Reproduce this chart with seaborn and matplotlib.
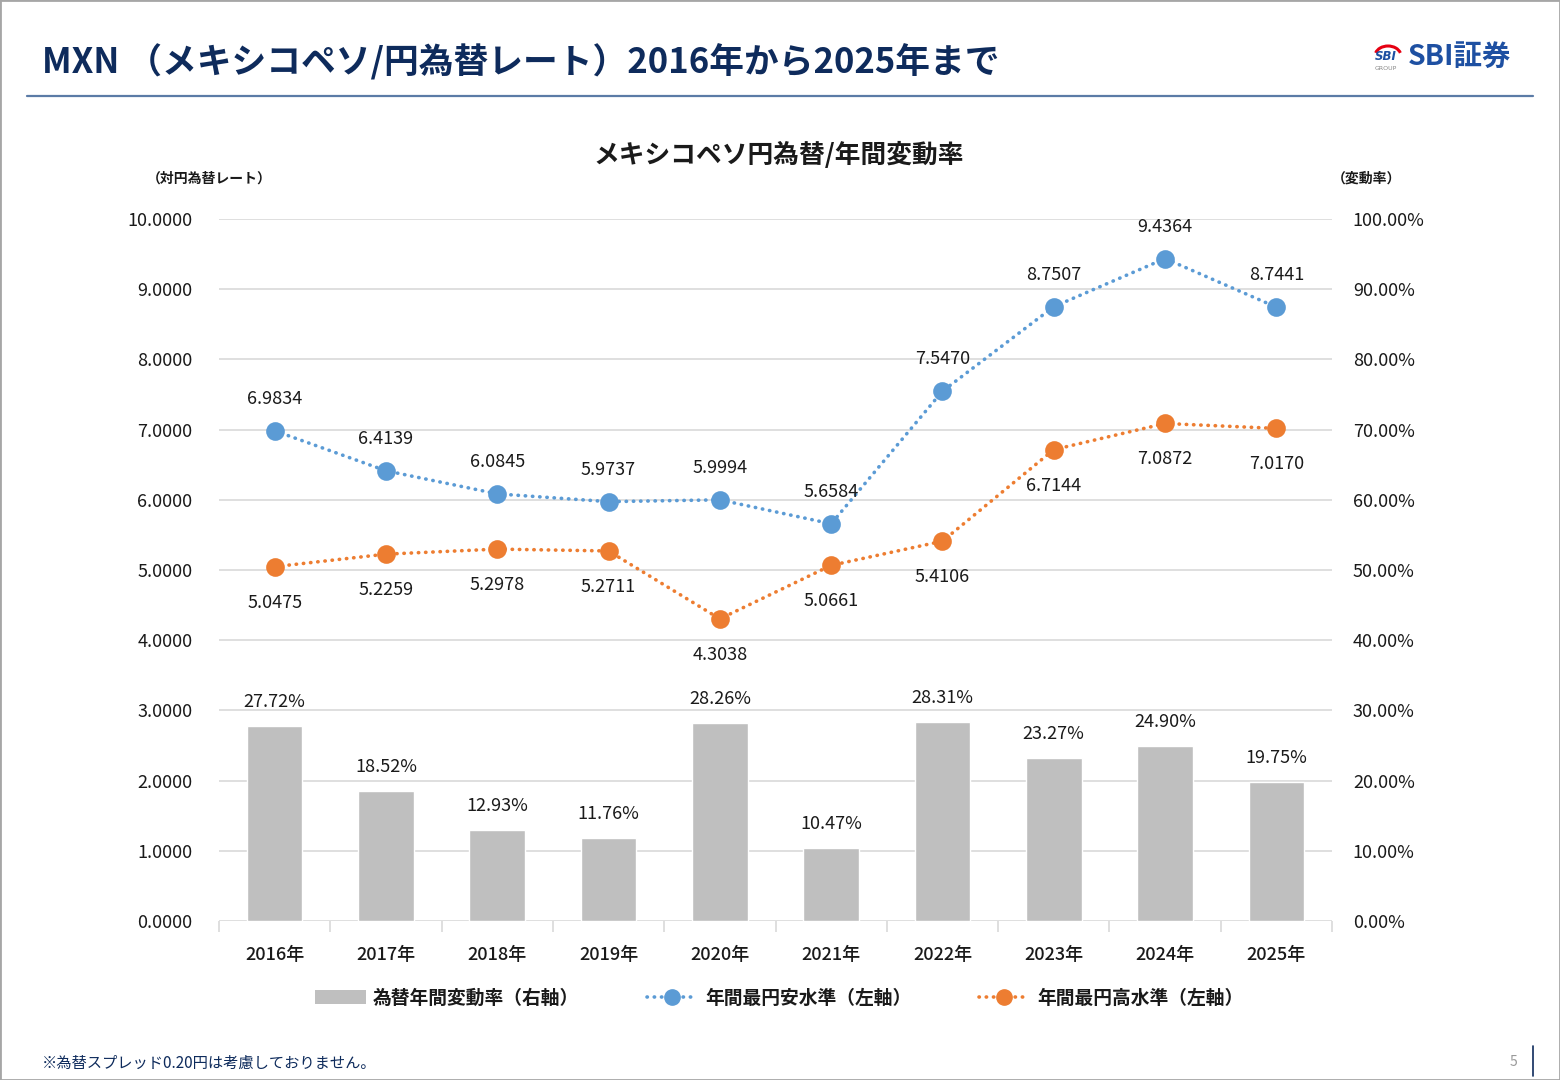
import numpy as np
import pandas as pd
import matplotlib
matplotlib.use("Agg")
import matplotlib.pyplot as plt
from matplotlib.patches import Rectangle, Arc
from matplotlib.lines import Line2D
from matplotlib.patches import Patch
import seaborn as sns

# data
years = ["2016年", "2017年", "2018年", "2019年", "2020年",
         "2021年", "2022年", "2023年", "2024年", "2025年"]
yen_low = [6.9834, 6.4139, 6.0845, 5.9737, 5.9994, 5.6584, 7.5470, 8.7507, 9.4364, 8.7441]
yen_high = [5.0475, 5.2259, 5.2978, 5.2711, 4.3038, 5.0661, 5.4106, 6.7144, 7.0872, 7.0170]
change_rate = [27.72, 18.52, 12.93, 11.76, 28.26, 10.47, 28.31, 23.27, 24.90, 19.75]
left_ticks = [0, 1, 2, 3, 4, 5, 6, 7, 8, 9, 10]
right_ticks = [0, 10, 20, 30, 40, 50, 60, 70, 80, 90, 100]

BLUE = "#5B9BD5"
ORANGE = "#ED7D31"
GRAY = "#BFBFBF"
NAVY = "#0E2B5C"
TXT = "#1A1A1A"
DOTS = (0, (0.1, 1.9))

sns.set_theme(style="white")
plt.rcParams["font.family"] = ["Noto Sans CJK JP", "DejaVu Sans"]

df = pd.DataFrame({"year": years, "low": yen_low, "high": yen_high, "rate": change_rate})

fig = plt.figure(figsize=(15.6, 10.8), dpi=100)
ax = fig.add_axes([219 / 1560, 1 - 921 / 1080, 1113 / 1560, 702 / 1080])
ax2 = ax.twinx()

# bars (right axis)
sns.barplot(data=df, x="year", y="rate", ax=ax2, color=GRAY, width=0.5,
            saturation=1, errorbar=None)
for i, v in enumerate(change_rate):
    ax2.annotate(f"{v:.2f}%", (i, v), xytext=(0, 24), textcoords="offset pixels",
                 ha="center", va="center", fontsize=13, color=TXT)

# lines (left axis)
line_kw = dict(linestyle=DOTS, marker="o", markersize=11.5,
               linewidth=2.6, dash_capstyle="round", errorbar=None)
sns.pointplot(data=df, x="year", y="low", ax=ax, color=BLUE, **line_kw)
sns.pointplot(data=df, x="year", y="high", ax=ax, color=ORANGE, **line_kw)
for i, v in enumerate(yen_low):
    ax.annotate(f"{v:.4f}", (i, v), xytext=(0, 32), textcoords="offset pixels",
                ha="center", va="center", fontsize=13, color=TXT)
for i, v in enumerate(yen_high):
    ax.annotate(f"{v:.4f}", (i, v), xytext=(0, -36), textcoords="offset pixels",
                ha="center", va="center", fontsize=13, color=TXT)

ax.set_zorder(ax2.get_zorder() + 1)
ax.patch.set_visible(False)

ax.set_ylim(0, 10)
ax2.set_ylim(0, 100)
ax.set_xlim(-0.5, 9.5)
ax.set_yticks(left_ticks)
ax.set_yticklabels([f"{t:.4f}" for t in left_ticks])
ax2.set_yticks(right_ticks)
ax2.set_yticklabels([f"{t:.2f}%" for t in right_ticks])
ax2.yaxis.grid(True, color="#D9D9D9", linewidth=1.2)
ax2.set_axisbelow(True)
ax.grid(False)
ax2.xaxis.grid(False)

for a in (ax, ax2):
    for s in a.spines.values():
        s.set_visible(False)
    a.set_xlabel("")
    a.set_ylabel("")

ax.tick_params(axis="y", length=0, pad=19, labelsize=13, labelcolor=TXT)
ax2.tick_params(axis="y", length=0, pad=15, labelsize=13, labelcolor=TXT)
for lbl in ax2.get_yticklabels():
    lbl.set_ha("left")
ax.set_xticks(np.arange(-0.5, 10, 1), minor=True)
ax.tick_params(axis="x", which="major", length=0, pad=18, labelsize=13, labelcolor=TXT)
ax.tick_params(axis="x", which="minor", length=8, width=1.2, color="#D9D9D9",
               direction="out", bottom=True)
for lbl in ax.get_xticklabels():
    lbl.set_fontweight("medium")

# chart title and axis captions
fig.text(779 / 1560, 1 - 155 / 1080, "メキシコペソ円為替/年間変動率", ha="center", va="center",
         fontsize=18.5, fontweight="bold", color=TXT)
fig.text(147 / 1560, 1 - 179 / 1080, "（対円為替レート）", ha="left", va="center",
         fontsize=10, fontweight="bold", color=TXT)
fig.text(1332 / 1560, 1 - 179 / 1080, "（変動率）", ha="left", va="center",
         fontsize=10, fontweight="bold", color=TXT)

# legend
handles = [
    Patch(facecolor=GRAY, edgecolor="none"),
    Line2D([], [], color=BLUE, linestyle=DOTS, linewidth=2.6, marker="o",
           markersize=11, dash_capstyle="round"),
    Line2D([], [], color=ORANGE, linestyle=DOTS, linewidth=2.6, marker="o",
           markersize=11, dash_capstyle="round"),
]
labels = ["為替年間変動率（右軸）", "年間最円安水準（左軸）", "年間最円高水準（左軸）"]
leg = fig.legend(handles, labels, loc="center", bbox_to_anchor=(779 / 1560, 1 - 998 / 1080),
                 ncol=3, frameon=False, fontsize=13.5, handlelength=2.7, handleheight=0.8,
                 columnspacing=3.6, handletextpad=0.4, labelcolor=TXT)
for t in leg.get_texts():
    t.set_fontweight("bold")

# page header
fig.text(42 / 1560, 1 - 62 / 1080, "MXN （メキシコペソ/円為替レート）2016年から2025年まで",
         ha="left", va="center", fontsize=25, fontweight="bold", color=NAVY)
fig.add_artist(Line2D([27 / 1560, 1533 / 1560], [1 - 96 / 1080, 1 - 96 / 1080],
                      color="#5B7BA6", linewidth=1.6))
fig.text(1408 / 1560, 1 - 57 / 1080, "SBI証券", ha="left", va="center",
         fontsize=20.5, fontweight="bold", color="#1E50A2")
fig.text(1386 / 1560, 1 - 56 / 1080, "SBI", ha="center", va="center", fontsize=8.5,
         fontweight="bold", style="italic", color="#1E50A2", family="DejaVu Sans")
fig.text(1386 / 1560, 1 - 68 / 1080, "GROUP", ha="center", va="center", fontsize=4.5,
         color="#888888", family="DejaVu Sans")
fig.add_artist(Arc((1388 / 1560, 1 - 56 / 1080), 26 / 1560, 20 / 1080, theta1=20, theta2=160,
                   color="#E60012", linewidth=2.2, transform=fig.transFigure))

# footer
fig.text(42 / 1560, 1 - 1063 / 1080, "※為替スプレッド0.20円は考慮しておりません。",
         ha="left", va="center", fontsize=11, color=NAVY)
fig.text(1513 / 1560, 1 - 1062 / 1080, "5", ha="center", va="center", fontsize=10,
         color="#999999")
fig.add_artist(Line2D([1533 / 1560, 1533 / 1560], [1 - 1046 / 1080, 1 - 1076 / 1080],
                      color=NAVY, linewidth=1.2))
fig.add_artist(Rectangle((0, 0), 1, 1, transform=fig.transFigure, fill=False,
                         edgecolor="#A6A6A6", linewidth=2))

fig.savefig("out.png", dpi=100)
